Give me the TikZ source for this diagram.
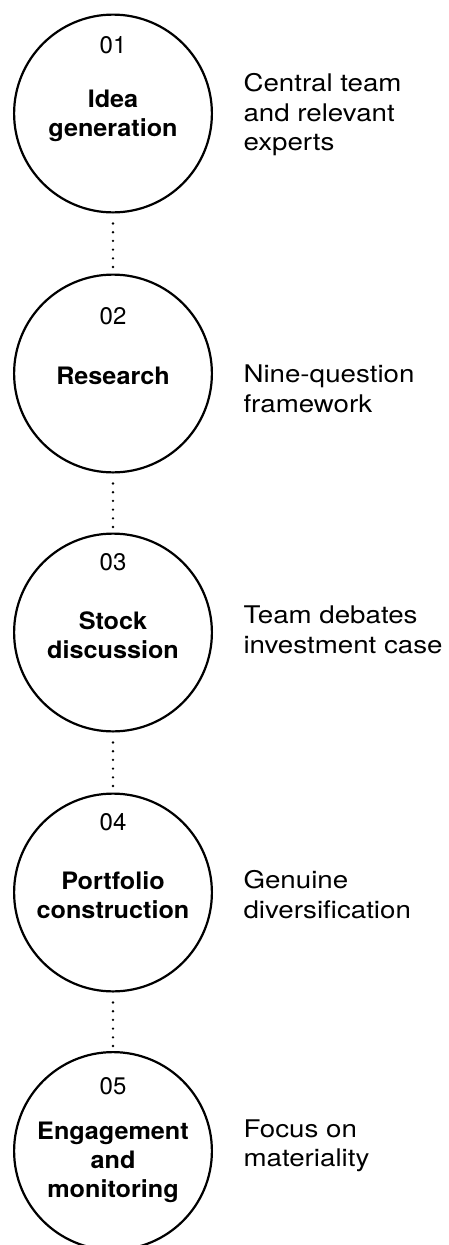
\documentclass[tikz,border=0pt]{standalone}
\usepackage{fontspec}
\setmainfont{TeX Gyre Heros}
\newfontfamily\notefont{TeX Gyre Heros}[FakeStretch=1.14]
\newfontfamily\titlefont{TeX Gyre Heros}[FakeStretch=1.05]
\usetikzlibrary{positioning}
\begin{document}
\begin{tikzpicture}[x=1pt, y=1pt,
	stage/.style={circle, draw, line width=2.2pt, minimum size=197.8pt, inner sep=0pt},
	stagenum/.style={font=\fontsize{24}{29}\selectfont},
	stagetitle/.style={align=center, font=\titlefont\bfseries\fontsize{24}{29}\selectfont},
	stagenote/.style={anchor=west, align=left, font=\notefont\fontsize{24.3}{29.5}\selectfont},
	dots/.style={line width=2.6pt, line cap=round, dash pattern=on 0pt off 8.7pt}]
		\useasboundingbox (0,0) rectangle (448,-1245);
		% circles
		\node[stage] (c1) at (113,-113.5) {};
		\node[stage] (c2) at (113,-373.5) {};
		\node[stage] (c3) at (113,-632.5) {};
		\node[stage] (c4) at (113,-892.5) {};
		\node[stage] (c5) at (113,-1151) {};
		% numbers
			\node[stagenum] (n1) at (113,-45.5) {01};
			\node[stagenum] (n2) at (113,-316) {02};
			\node[stagenum] (n3) at (113,-562.5) {03};
			\node[stagenum] (n4) at (113,-822.5) {04};
			\node[stagenum] (n5) at (113,-1086.5) {05};
		% titles
			\node[stagetitle] (t1) at (113,-116) {Idea\\generation};
			\node[stagetitle] (t2) at (113,-376) {Research};
			\node[stagetitle] (t3) at (113,-635) {Stock\\discussion};
			\node[stagetitle] (t4) at (113,-895) {Portfolio\\construction};
			\node[stagetitle] (t5) at (113,-1162) {Engagement\\and\\monitoring};
		% notes
			\node[stagenote] (d1) at (240,-115) {Central team\\and relevant\\experts};
			\node[stagenote] (d2) at (240,-389) {Nine-question\\framework};
			\node[stagenote] (d3) at (240,-630) {Team debates\\investment case};
			\node[stagenote] (d4) at (240,-894.5) {Genuine\\diversification};
			\node[stagenote] (d5) at (240,-1146) {Focus on\\materiality};
		% links
		\draw[dots] ([yshift=-10pt]c1.south) -- (c2.north);
		\draw[dots] ([yshift=-10pt]c2.south) -- (c3.north);
		\draw[dots] ([yshift=-10pt]c3.south) -- (c4.north);
		\draw[dots] ([yshift=-10pt]c4.south) -- (c5.north);
\end{tikzpicture}
\end{document}
